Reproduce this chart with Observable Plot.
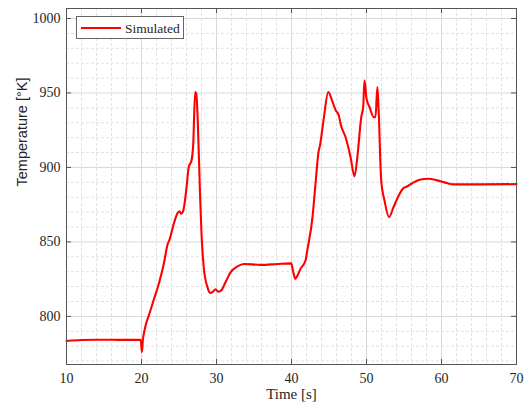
<!DOCTYPE html>
<html>
<head>
<meta charset="utf-8">
<script src="https://cdn.jsdelivr.net/npm/d3@7"></script>
<script src="https://cdn.jsdelivr.net/npm/@observablehq/plot@0.6"></script>
<style>
  body { margin: 0; background: #fff; }
  #chart { width: 527px; height: 409px; }
</style>
</head>
<body>
<div id="chart"></div>
<script>
// Simulated temperature trace
const timeS = [10, 12, 14, 16, 18, 19.9, 20.05, 20.2, 20.3, 20.6, 20.97, 21.6, 22.3, 22.97, 23.5, 23.7, 24.3, 24.76, 25.07, 25.3, 25.55, 25.96, 26.3, 26.67, 26.9, 27.15, 27.3, 27.5, 27.8, 28.0, 28.3, 28.8, 29.2, 29.56, 29.87, 30.2, 30.6, 31.2, 31.87, 32.8, 33.64, 35.9, 38.1, 39.96, 40.2, 40.5, 40.8, 41.2, 41.87, 42.1, 42.8, 43.2, 43.6, 43.8, 44.3, 44.9, 45.4, 45.9, 46.3, 46.6, 47.2, 47.87, 48.4, 48.8, 49.3, 49.56, 49.73, 50.0, 50.4, 50.97, 51.2, 51.45, 51.6, 51.96, 52.4, 53.0, 53.6, 54.3, 55.0, 55.4, 56.1, 57.2, 58.3, 59.4, 60.8, 61.6, 65.2, 70];
const tempK = [783.5, 784.1, 784.3, 784.3, 784.2, 784.2, 776, 785, 788, 794.9, 800.5, 810.6, 821.8, 835.2, 848.7, 851, 862.1, 868.9, 870.6, 868.9, 870.6, 884.5, 900.2, 904.7, 916, 950.6, 949.6, 931.6, 882.3, 855.6, 833, 819.5, 815.7, 816.8, 818.2, 816.6, 817.3, 822.9, 829.6, 833.6, 835.2, 834.6, 835.2, 835.6, 830.7, 825.2, 827.4, 831.9, 837.5, 844.2, 866.6, 889, 910.3, 914.8, 932.8, 950.6, 945, 938.3, 935, 928.2, 920.4, 907, 894, 908, 933.8, 940.6, 958.5, 946.2, 940.6, 933.8, 933.8, 954, 940.6, 891.3, 877.8, 866.6, 873.3, 881.2, 886.4, 887.2, 889.4, 891.9, 892.4, 891.3, 889.4, 888.6, 888.6, 888.8];

// Axis ticks and grid
const xMajor = [10, 20, 30, 40, 50, 60, 70];
const xMinor = [12, 14, 16, 18, 22, 24, 26, 28, 32, 34, 36, 38, 42, 44, 46, 48, 52, 54, 56, 58, 62, 64, 66, 68];
const yMajor = [800, 850, 900, 950, 1000];
const yMinor = [770, 780, 790, 810, 820, 830, 840, 860, 870, 880, 890, 910, 920, 930, 940, 960, 970, 980, 990];

const seriesName = "Simulated";
const xLabel = "Time [s]";
const yLabel = "Temperature [°K]";

const data = timeS.map((t, i) => ({t, T: tempK[i]}));

const W = 527, H = 409;
const mL = 66, mR = 11, mT = 8, mB = 45;
const innerW = W - mL - mR, innerH = H - mT - mB;
const axisColor = "#555";
const serif = "'Liberation Serif', 'DejaVu Serif', serif";

const chart = Plot.plot({
  width: W,
  height: H,
  marginLeft: mL,
  marginRight: mR,
  marginTop: mT,
  marginBottom: mB,
  style: {fontFamily: serif, fontSize: "14px", color: "#262626", background: "#fff"},
  x: {domain: [10, 70]},
  y: {domain: [767.7, 1006.7]},
  marks: [
    Plot.ruleX(xMinor, {x: d => d, stroke: "#e2e2e2", strokeDasharray: "3,2"}),
    Plot.ruleY(yMinor, {y: d => d, stroke: "#e2e2e2", strokeDasharray: "3,2"}),
    Plot.ruleX(xMajor, {x: d => d, stroke: "#d8d8d8"}),
    Plot.ruleY(yMajor, {y: d => d, stroke: "#d8d8d8"}),
    Plot.line(data, {x: "t", y: "T", stroke: "#ff0000", strokeWidth: 2.1, curve: "monotone-x"}),
    Plot.frame({stroke: axisColor}),
    // inward tick marks on all four sides
    Plot.tickX(xMajor, {x: d => d, insetTop: innerH - 5, stroke: axisColor}),
    Plot.tickX(xMajor, {x: d => d, insetBottom: innerH - 5, stroke: axisColor}),
    Plot.tickY(yMajor, {y: d => d, insetRight: innerW - 5, stroke: axisColor}),
    Plot.tickY(yMajor, {y: d => d, insetLeft: innerW - 5, stroke: axisColor}),
    Plot.axisX(xMajor, {tickSize: 0, tickPadding: 9, label: null, tickFormat: d => String(d)}),
    Plot.axisY(yMajor, {tickSize: 0, tickPadding: 6, label: null, tickFormat: d => String(d)}),
    Plot.text([xLabel], {frameAnchor: "bottom", dy: 34, fontSize: 15, fontFamily: serif}),
    Plot.text([yLabel], {frameAnchor: "left", dx: -44, rotate: -90, fontSize: 14.5, fontFamily: "'Liberation Sans', Arial, sans-serif"})
  ]
});

// Legend box in the upper-left corner of the axes
const svg = d3.select(chart);
const lg = svg.append("g").attr("class", "legend");
lg.append("rect").attr("x", 76.5).attr("y", 16.5).attr("width", 107).attr("height", 22)
  .attr("fill", "#fff").attr("stroke", "#666").attr("stroke-width", 1);
lg.append("line").attr("x1", 81).attr("x2", 121).attr("y1", 28).attr("y2", 28)
  .attr("stroke", "#ff0000").attr("stroke-width", 2.1);
lg.append("text").attr("x", 125).attr("y", 32.5).attr("text-anchor", "start")
  .attr("font-family", serif).attr("font-size", 13.5)
  .attr("fill", "#262626").text(seriesName);

document.getElementById("chart").appendChild(chart);
</script>
</body>
</html>
